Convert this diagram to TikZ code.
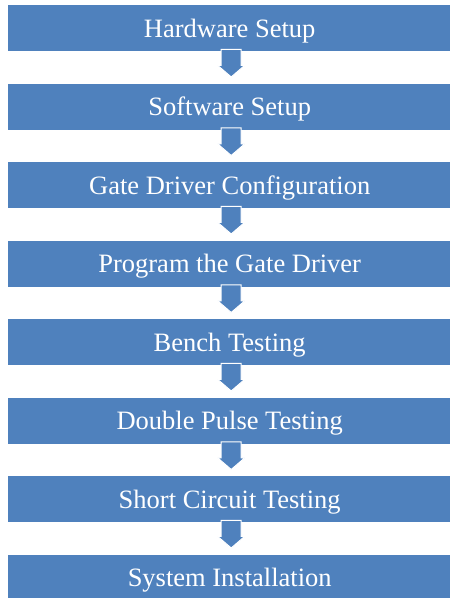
\documentclass[tikz,border=0pt]{standalone}
\usepackage{fontspec}
\setmainfont{Liberation Serif}
\usetikzlibrary{calc}
\definecolor{boxblue}{HTML}{4F81BD}
\begin{document}
\begin{tikzpicture}[x=1pt,y=-1pt,
  stepbox/.style={fill=boxblue, draw=none, minimum width=443pt, minimum height=46pt, inner sep=0pt, text=white, font=\fontsize{26.5}{30}\selectfont, text height=18pt, text depth=0pt, anchor=north west},
  flowarrow/.style={fill=boxblue, draw=white, line width=1pt, line join=miter}]
\useasboundingbox (0,0) rectangle (450,598);
\foreach \t [count=\i from 0] in {Hardware Setup, Software Setup, Gate Driver Configuration, Program the Gate Driver, Bench Testing, Double Pulse Testing, Short Circuit Testing, System Installation}
  \node[stepbox] (b\i) at (8, 5+78.5*\i) {\t};
\foreach \i [evaluate=\i as \j using int(\i+1)] in {0,...,6}
  \draw[flowarrow] ($(b\i.south)+(-8.5,-2)$) -- ($(b\i.south)+(-8.5,14)$) -- ($(b\i.south)+(-12,14)$)
    -- ($(b\j.north)+(1.5,-6.5)$) -- ($(b\i.south)+(15,14)$) -- ($(b\i.south)+(11.5,14)$)
    -- ($(b\i.south)+(11.5,-2)$) -- cycle;
\end{tikzpicture}
\end{document}
